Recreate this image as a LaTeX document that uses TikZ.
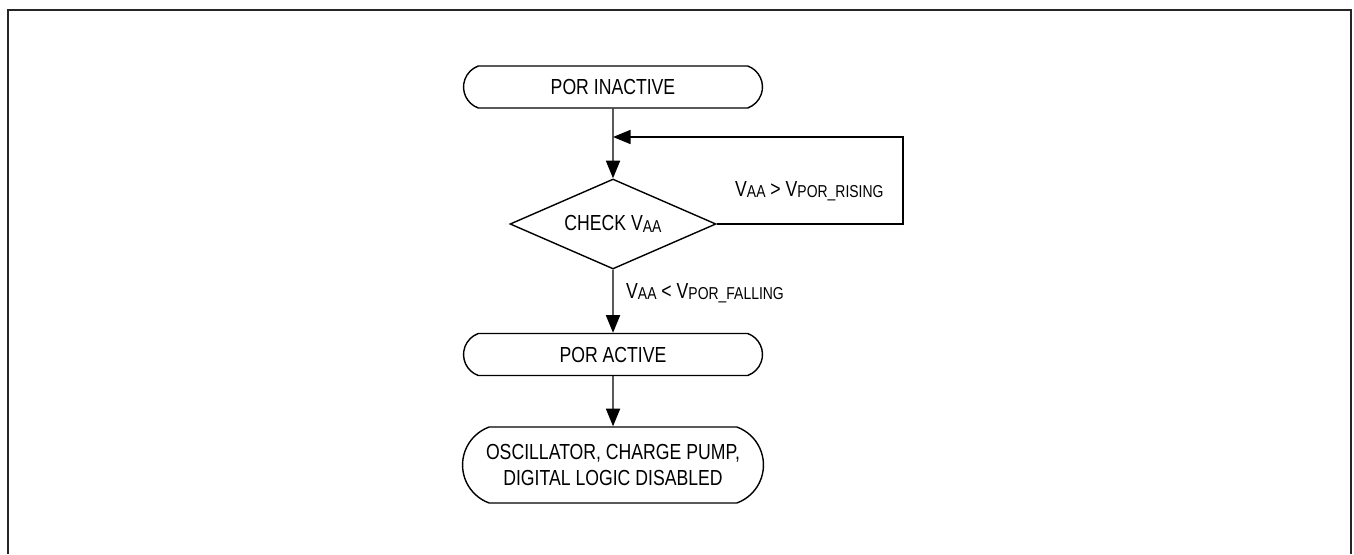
\documentclass[tikz,border=0pt]{standalone}
\usepackage{fontspec}
\setmainfont[FakeStretch=0.81]{Liberation Sans}
\usetikzlibrary{shapes.misc,shapes.geometric,arrows.meta}
\newcommand{\lowtxt}[1]{\raisebox{-0.12ex}{\fontsize{9.8}{11}\selectfont #1}}

\begin{document}
\begin{tikzpicture}[x=0.02cm,y=-0.02cm,font=\fontsize{12.4}{14.5}\selectfont,
  flow/.style={line width=0.8pt,-{Triangle[length=10pt,width=8pt]}},
  state/.style={draw,line width=0.8pt,rounded rectangle,rounded rectangle arc length=140,
    minimum width=6.12cm,minimum height=0.84cm,inner sep=2pt,align=center}]
 \useasboundingbox (0,0) rectangle (1354,554);
 \draw[line width=1.2pt,color=black!85] (8,554)--(8,10)--(1351,10)--(1351,554); %枠

 \node[state] (inactive) at (613,87) {POR INACTIVE}; %開始
 \node[draw,line width=0.8pt,diamond,aspect=2.29,minimum width=4.12cm,minimum height=1.8cm,inner sep=0pt]
   (check) at (613,224) {CHECK V\lowtxt{AA}}; %判定
 \node[state] (active) at (613,354.5) {POR ACTIVE};
 \node[state,minimum width=6.16cm,minimum height=1.52cm] (disabled) at (613,465)
   {OSCILLATOR, CHARGE PUMP,\\DIGITAL LOGIC DISABLED};

 \coordinate (join) at (613,137); %合流点
 \coordinate (corner) at (903,224);
 \draw[flow] (inactive)--(check);
 \draw[flow] (check.east)--(corner)--(corner|-join)--(join); %帰還
 \draw[flow] (check)--(active);
 \draw[flow] (active)--(disabled);

 \node[anchor=west] (rising) at (729,191) {V\lowtxt{AA} > V\lowtxt{POR\_RISING}};
 \node[anchor=west] (falling) at (620,293.5) {V\lowtxt{AA} < V\lowtxt{POR\_FALLING}};
\end{tikzpicture}
\end{document}
